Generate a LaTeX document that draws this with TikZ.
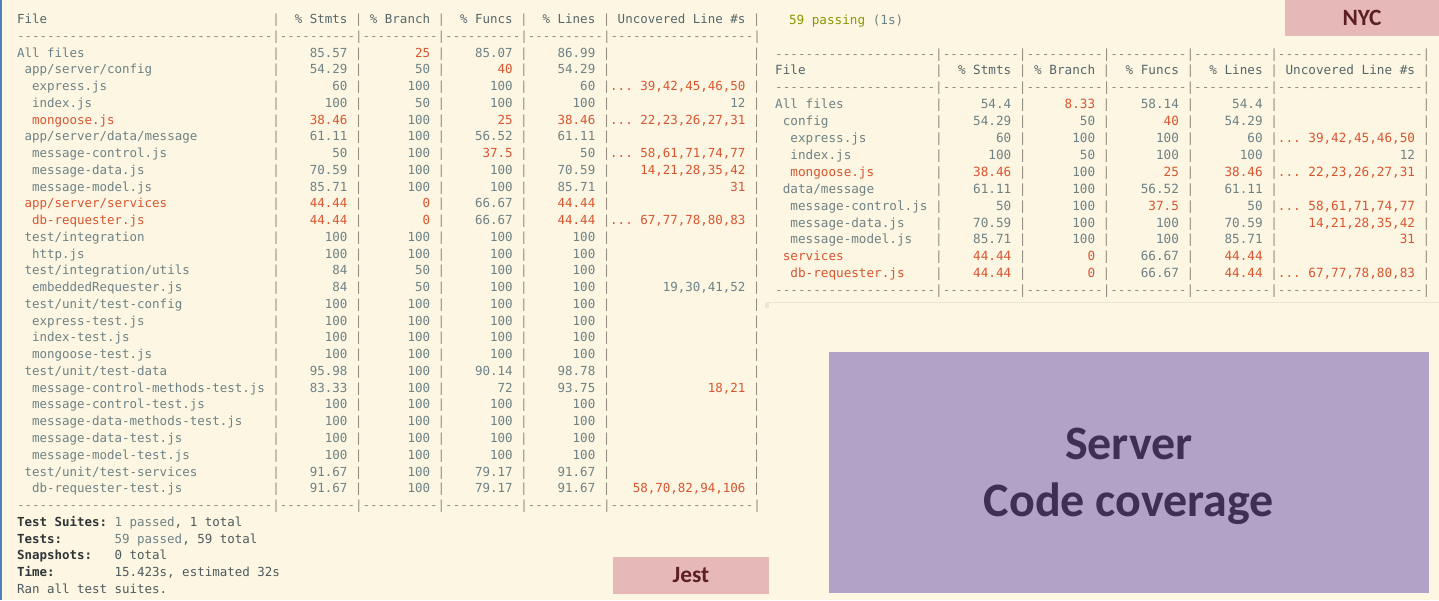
\documentclass[tikz,border=0pt]{standalone}
\usepackage{fontspec}
\setmonofont{DejaVu Sans Mono}
\newfontfamily\tagfont{Carlito}
\definecolor{paper}{HTML}{FDF6E3}
\definecolor{plain}{HTML}{6E8286}
\definecolor{head}{HTML}{56666A}
\definecolor{dark}{HTML}{4E5A5E}
\definecolor{label}{HTML}{2F3537}
\definecolor{warn}{HTML}{D9552F}
\definecolor{pass}{HTML}{859900}
\definecolor{rule}{HTML}{948E82}
\definecolor{faint}{HTML}{EBE5D4}
\definecolor{edge}{HTML}{4F7EC0}
\definecolor{tag}{HTML}{E6B8B7}
\definecolor{tagtext}{HTML}{5B1F24}
\definecolor{lavender}{HTML}{B3A2C7}
\definecolor{paneltext}{HTML}{3E3054}
\newcommand{\gridfont}{\ttfamily}
\tikzstyle{cell} = [inner sep=0pt, outer sep=0pt, font=\gridfont]
\tikzstyle{filecell} = [cell, anchor=base west]
\tikzstyle{numcell} = [cell, anchor=base east]
\tikzstyle{sepcell} = [cell, anchor=base, text=rule]
\tikzstyle{labelcell} = [filecell, text=label, font=\gridfont\bfseries]
\tikzstyle{tagbox} = [fill=tag, text=tagtext, inner sep=0pt, font=\tagfont\bfseries\fontsize{17.5pt}{21pt}\selectfont]
\tikzstyle{panelbox} = [fill=lavender, text=paneltext, align=center, text depth=0pt, font=\tagfont\bfseries\fontsize{36pt}{43pt}\selectfont]
% grid of one terminal table: x0, pitch, baseline y0, row step, width of file column, font size, prefix
\newcommand{\setgrid}[7]{\def\gx{#1}\def\gp{#2}\def\gy{#3}\def\gr{#4}\def\gw{#5}%
  \def\gridfont{\ttfamily\fontsize{#6}{#6}\selectfont}\def\gname{#7}}
\newcommand{\colx}[1]{\gx+\gp*(#1)}
\newcommand{\rowy}[1]{\gy+\gr*(#1)}
\newcommand{\dashrun}[1]{\foreach \k in {1,...,#1}{-}}
\newcommand{\bars}[1]{\foreach \bc in {0,11,22,33,44,64}
  {\node[sepcell] (\gname-#1-bar\bc) at ({\colx{\gw+\bc+0.5}},{\rowy{#1}}) {|};}}
\newcommand{\dashrow}[1]{\node[filecell, text=rule] (\gname-#1-rule) at ({\colx{0}},{\rowy{#1}})
  {\dashrun{\gw}|\dashrun{10}|\dashrun{10}|\dashrun{10}|\dashrun{10}|\dashrun{19}|};}
\newcommand{\headrow}[1]{%
  \node[filecell, text=head] (\gname-#1-file) at ({\colx{0}},{\rowy{#1}}) {File};
  \node[numcell, text=head] (\gname-#1-stmts) at ({\colx{\gw+10}},{\rowy{#1}}) {\% Stmts};
  \node[numcell, text=head] (\gname-#1-branch) at ({\colx{\gw+21}},{\rowy{#1}}) {\% Branch};
  \node[numcell, text=head] (\gname-#1-funcs) at ({\colx{\gw+32}},{\rowy{#1}}) {\% Funcs};
  \node[numcell, text=head] (\gname-#1-lines) at ({\colx{\gw+43}},{\rowy{#1}}) {\% Lines};
  \node[numcell, text=head] (\gname-#1-uncov) at ({\colx{\gw+63}},{\rowy{#1}}) {Uncovered Line \#s};
  \bars{#1}}
% one percentage, red below 50
\newcommand{\pctcell}[4]{%
  \ifdim #3pt<50pt \def\cellcol{warn}\else\def\cellcol{plain}\fi
  \node[numcell, text=\cellcol] (\gname-#1-#4) at ({\colx{#2}},{\rowy{#1}}) {#3};}
% row, indent, file, stmts, branch, funcs, lines, uncovered lines
\newcommand{\filerow}[8]{%
  \ifdim #4pt<50pt \def\cellcol{warn}\else\def\cellcol{plain}\fi
  \node[filecell, text=\cellcol] (\gname-#1-file) at ({\colx{#2}},{\rowy{#1}}) {#3};
  \pctcell{#1}{\gw+10}{#4}{stmts}
  \pctcell{#1}{\gw+21}{#5}{branch}
  \pctcell{#1}{\gw+32}{#6}{funcs}
  \pctcell{#1}{\gw+43}{#7}{lines}
  \ifdim #7pt<100pt \def\cellcol{warn}\else\def\cellcol{plain}\fi
  \node[numcell, text=\cellcol] (\gname-#1-uncov) at ({\colx{\gw+63}},{\rowy{#1}}) {#8};
  \bars{#1}}

\begin{document}
\begin{tikzpicture}[x=0.75pt, y=-0.75pt]
        \fill[paper] (0,0) rectangle (1439,600);
        \useasboundingbox (0,0) rectangle (1439,600);
        \draw[edge, line width=1.2pt] (0.8,0) -- (0.8,600);

        % Jest report
        \setgrid{17}{7.51}{23.5}{16.76}{34}{9.36pt}{jest}
        \headrow{0}
        \dashrow{1}
        \filerow{2}{0}{All files}{85.57}{25}{85.07}{86.99}{}
        \filerow{3}{1}{app/server/config}{54.29}{50}{40}{54.29}{}
        \filerow{4}{2}{express.js}{60}{100}{100}{60}{... 39,42,45,46,50}
        \filerow{5}{2}{index.js}{100}{50}{100}{100}{12}
        \filerow{6}{2}{mongoose.js}{38.46}{100}{25}{38.46}{... 22,23,26,27,31}
        \filerow{7}{1}{app/server/data/message}{61.11}{100}{56.52}{61.11}{}
        \filerow{8}{2}{message-control.js}{50}{100}{37.5}{50}{... 58,61,71,74,77}
        \filerow{9}{2}{message-data.js}{70.59}{100}{100}{70.59}{14,21,28,35,42}
        \filerow{10}{2}{message-model.js}{85.71}{100}{100}{85.71}{31}
        \filerow{11}{1}{app/server/services}{44.44}{0}{66.67}{44.44}{}
        \filerow{12}{2}{db-requester.js}{44.44}{0}{66.67}{44.44}{... 67,77,78,80,83}
        \filerow{13}{1}{test/integration}{100}{100}{100}{100}{}
        \filerow{14}{2}{http.js}{100}{100}{100}{100}{}
        \filerow{15}{1}{test/integration/utils}{84}{50}{100}{100}{}
        \filerow{16}{2}{embeddedRequester.js}{84}{50}{100}{100}{19,30,41,52}
        \filerow{17}{1}{test/unit/test-config}{100}{100}{100}{100}{}
        \filerow{18}{2}{express-test.js}{100}{100}{100}{100}{}
        \filerow{19}{2}{index-test.js}{100}{100}{100}{100}{}
        \filerow{20}{2}{mongoose-test.js}{100}{100}{100}{100}{}
        \filerow{21}{1}{test/unit/test-data}{95.98}{100}{90.14}{98.78}{}
        \filerow{22}{2}{message-control-methods-test.js}{83.33}{100}{72}{93.75}{18,21}
        \filerow{23}{2}{message-control-test.js}{100}{100}{100}{100}{}
        \filerow{24}{2}{message-data-methods-test.js}{100}{100}{100}{100}{}
        \filerow{25}{2}{message-data-test.js}{100}{100}{100}{100}{}
        \filerow{26}{2}{message-model-test.js}{100}{100}{100}{100}{}
        \filerow{27}{1}{test/unit/test-services}{91.67}{100}{79.17}{91.67}{}
        \filerow{28}{2}{db-requester-test.js}{91.67}{100}{79.17}{91.67}{58,70,82,94,106}
        \dashrow{29}
        \node[labelcell] (suites) at ({\colx{0}},{\rowy{30}}) {Test Suites:};
        \node[filecell, text=dark] (suites-val) at ({\colx{13}},{\rowy{30}}) {\textcolor{plain}{1 passed}, 1 total};
        \node[labelcell] (tests) at ({\colx{0}},{\rowy{31}}) {Tests:};
        \node[filecell, text=dark] (tests-val) at ({\colx{13}},{\rowy{31}}) {\textcolor{plain}{59 passed}, 59 total};
        \node[labelcell] (snaps) at ({\colx{0}},{\rowy{32}}) {Snapshots:};
        \node[filecell, text=dark] (snaps-val) at ({\colx{13}},{\rowy{32}}) {0 total};
        \node[labelcell] (time) at ({\colx{0}},{\rowy{33}}) {Time:};
        \node[filecell, text=dark] (time-val) at ({\colx{13}},{\rowy{33}}) {15.423s, estimated 32s};
        \node[filecell, text=dark] (ran) at ({\colx{0}},{\rowy{34}}) {Ran all test suites.};
        \node[tagbox, minimum width=117pt, minimum height=27.3pt] (jest tag) at (691,575.5) {Jest};

        % NYC report
        \setgrid{775.2}{7.617}{58}{16.9}{21}{9.49pt}{nyc}
        \node[filecell, text=plain] (passing) at (789,24.5) {\textcolor{pass}{59 passing} (1s)};
        \node[tagbox, minimum width=115.5pt, minimum height=26.8pt] (nyc tag) at (1362,17.85) {NYC};
        \dashrow{0}
        \headrow{1}
        \dashrow{2}
        \filerow{3}{0}{All files}{54.4}{8.33}{58.14}{54.4}{}
        \filerow{4}{1}{config}{54.29}{50}{40}{54.29}{}
        \filerow{5}{2}{express.js}{60}{100}{100}{60}{... 39,42,45,46,50}
        \filerow{6}{2}{index.js}{100}{50}{100}{100}{12}
        \filerow{7}{2}{mongoose.js}{38.46}{100}{25}{38.46}{... 22,23,26,27,31}
        \filerow{8}{1}{data/message}{61.11}{100}{56.52}{61.11}{}
        \filerow{9}{2}{message-control.js}{50}{100}{37.5}{50}{... 58,61,71,74,77}
        \filerow{10}{2}{message-data.js}{70.59}{100}{100}{70.59}{14,21,28,35,42}
        \filerow{11}{2}{message-model.js}{85.71}{100}{100}{85.71}{31}
        \filerow{12}{1}{services}{44.44}{0}{66.67}{44.44}{}
        \filerow{13}{2}{db-requester.js}{44.44}{0}{66.67}{44.44}{... 67,77,78,80,83}
        \dashrow{14}
        \draw[faint, line width=0.8pt] (766,302.5) -- (1439,302.5);
        \fill[faint] (764.5,303) rectangle (769,308);

        \node[panelbox, minimum width=450pt, minimum height=180.75pt] (server) at (1129,472.5) {Server\\Code coverage};
    \end{tikzpicture}
\end{document}
